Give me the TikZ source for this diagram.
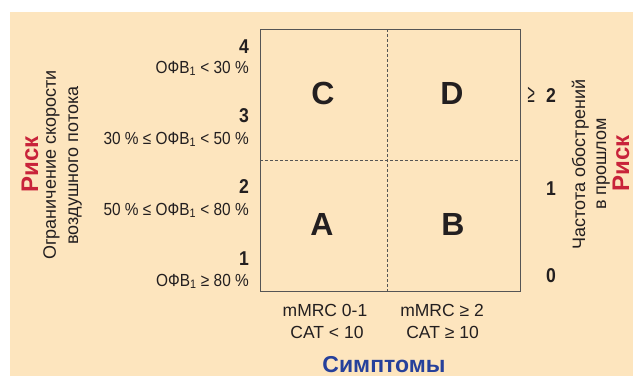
\documentclass[tikz,border=0pt]{standalone}
\usepackage{fontspec}
\setmainfont{Liberation Sans}
\newfontfamily\narrowfont[FakeStretch=0.88]{Liberation Sans}
\usetikzlibrary{positioning}

\definecolor{beige}{RGB}{253,229,190}
\definecolor{riskred}{RGB}{200,35,58}
\definecolor{symblue}{RGB}{38,64,155}
\definecolor{framegray}{RGB}{85,85,85}
\definecolor{ink}{RGB}{35,31,32}

\begin{document}
\begin{tikzpicture}[x=1pt,y=-1pt]

	\tikzstyle fev=[font={\narrowfont\fontsize{17.5}{20}\selectfont}, text=ink, inner sep=0pt, anchor=base east];
	\tikzstyle grade=[font={\narrowfont\bfseries\fontsize{20}{24}\selectfont}, text=ink, inner sep=0pt, anchor=base east];
	\tikzstyle group=[font={\bfseries\fontsize{32}{36}\selectfont}, text=ink, inner sep=0pt];
	\tikzstyle symp=[font={\fontsize{17.5}{20}\selectfont}, text=ink, inner sep=0pt, anchor=base];
	\tikzstyle axis text=[font={\fontsize{18}{21}\selectfont}, text=ink, inner sep=0pt, anchor=base, rotate=90];
	\tikzstyle risk=[font={\bfseries\fontsize{24}{28}\selectfont}, text=riskred, inner sep=0pt, anchor=base, rotate=90];
	\tikzstyle frame lines=[framegray, line width=1pt];
	\tikzstyle split lines=[framegray, line width=1pt, dash pattern=on 3pt off 2pt];

	\useasboundingbox (0,0) rectangle (633,376);
	\fill[beige] (10,12) rectangle (633,376);

	% matrix
	\draw[frame lines] (260,29) rectangle (520,291);
	\draw[split lines] (387,29) -- (387,291);
	\draw[split lines] (260,160) -- (520,160);

	\node[group] (C) at (323,93) {C};
	\node[group] (D) at (452,93) {D};
	\node[group] (A) at (322,224) {A};
	\node[group] (B) at (453,224) {B};

	% left scale
	\node[grade] (g4) at (249,53) {4};
	\node[fev] (f4) at (249,73) {ОФВ\textsubscript{1} < 30 \%};
	\node[grade] (g3) at (249,122) {3};
	\node[fev] (f3) at (249,144) {30 \% ≤ ОФВ\textsubscript{1} < 50 \%};
	\node[grade] (g2) at (249,193) {2};
	\node[fev] (f2) at (249,215) {50 \% ≤ ОФВ\textsubscript{1} < 80 \%};
	\node[grade] (g1) at (249,265) {1};
	\node[fev] (f1) at (249,286) {ОФВ\textsubscript{1} ≥ 80 \%};

	\node[risk] (riskL) at (38,164.5) {Риск};
	\node[axis text] (airL1) at (56,165) {Ограничение скорости};
	\node[axis text] (airL2) at (78,165.5) {воздушного потока};

	% right scale
	\node[grade] (e2) at (556,102) {2};
	\node[fev] (ge) at (535,102) {\scalebox{0.85}[1.45]{≥}};
	\node[grade] (e1) at (556,195) {1};
	\node[grade] (e0) at (556,282) {0};

	\node[axis text] (exR1) at (585,164.5) {Частота обострений};
	\node[axis text] (exR2) at (606,164) {в прошлом};
	\node[risk] (riskR) at (629,163.5) {Риск};

	% bottom
	\node[symp] (s1a) at (325,316) {mMRC 0-1};
	\node[symp] (s1b) at (327,338) {CAT < 10};
	\node[symp] (s2a) at (442,316) {mMRC ≥ 2};
	\node[symp] (s2b) at (442.5,338) {CAT ≥ 10};
	\node[font={\bfseries\fontsize{23}{27}\selectfont}, text=symblue, inner sep=0pt, anchor=base] (sympt) at (384,372) {Симптомы};

\end{tikzpicture}
\end{document}
